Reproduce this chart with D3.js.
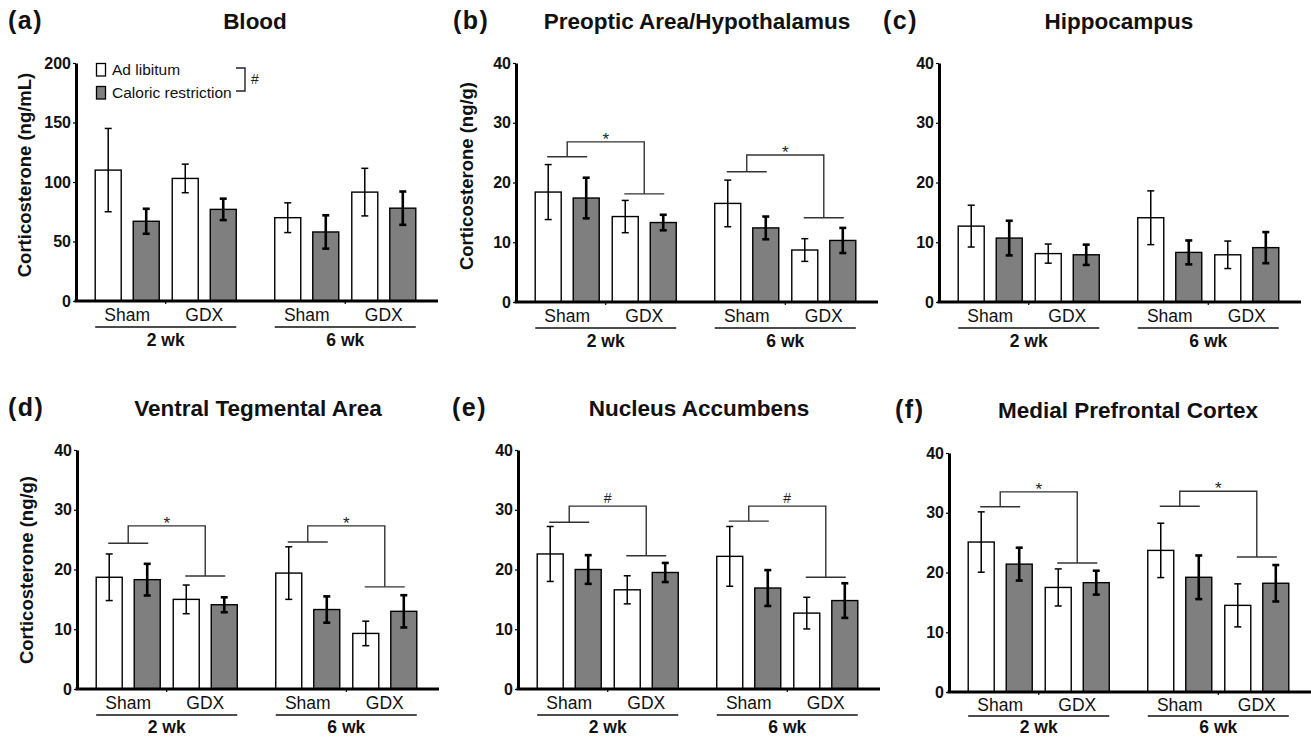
<!DOCTYPE html>
<html>
<head>
<meta charset="utf-8">
<script src="https://cdn.jsdelivr.net/npm/d3@7"></script>
<style>
  html, body { margin: 0; padding: 0; background: #fff; }
  svg { display: block; font-family: "Liberation Sans", Arial, Helvetica, sans-serif; }
</style>
</head>
<body>
<svg id="chart" width="1311" height="739"></svg>
<script>
// ---------------- DATA ----------------
const weeks = ["2 wk", "6 wk"];
const surgeries = ["Sham", "GDX"];
const diets = ["Ad libitum", "Caloric restriction"];
// order of values: 2wk Sham AL, 2wk Sham CR, 2wk GDX AL, 2wk GDX CR, 6wk Sham AL, 6wk Sham CR, 6wk GDX AL, 6wk GDX CR
const bloodMean = [110, 67, 103, 77, 70, 58, 91.5, 78];
const bloodErr  = [35, 10.5, 12, 9, 12.5, 14, 20, 14];
const poaMean = [18.4, 17.4, 14.3, 13.3, 16.5, 12.4, 8.7, 10.3];
const poaErr  = [4.6, 3.4, 2.7, 1.3, 3.9, 1.9, 1.9, 2.1];
const hipMean = [12.7, 10.7, 8.1, 7.9, 14.1, 8.3, 7.9, 9.1];
const hipErr  = [3.5, 2.9, 1.6, 1.7, 4.5, 2.0, 2.3, 2.6];
const vtaMean = [18.7, 18.3, 15.0, 14.1, 19.4, 13.3, 9.3, 13.0];
const vtaErr  = [3.9, 2.65, 2.4, 1.25, 4.4, 2.2, 2.05, 2.7];
const naccMean = [22.6, 20.0, 16.6, 19.5, 22.2, 16.9, 12.7, 14.8];
const naccErr  = [4.6, 2.4, 2.35, 1.6, 5.0, 3.0, 2.65, 2.9];
const mpfcMean = [25.1, 21.4, 17.5, 18.3, 23.7, 19.2, 14.5, 18.2];
const mpfcErr  = [5.05, 2.75, 3.1, 2.0, 4.55, 3.65, 3.6, 3.05];

const bloodTicks = [0, 50, 100, 150, 200];
const tissueTicks = [0, 10, 20, 30, 40];

const panelLetters = ["(a)", "(b)", "(c)", "(d)", "(e)", "(f)"];
const panelTitles = ["Blood", "Preoptic Area/Hypothalamus", "Hippocampus",
  "Ventral Tegmental Area", "Nucleus Accumbens", "Medial Prefrontal Cortex"];
const yLabels = ["Corticosterone (ng/mL)", "Corticosterone (ng/g)", "",
  "Corticosterone (ng/g)", "", ""];

// significance brackets: heights in data units (left group line, top line, right group line)
const poaBrackets  = [{week: "2 wk", left: 24.3, top: 26.8, right: 18.1, sym: "*"},
                      {week: "6 wk", left: 21.8, top: 24.6, right: 14.1, sym: "*"}];
const vtaBrackets  = [{week: "2 wk", left: 24.4, top: 27.3, right: 18.9, sym: "*"},
                      {week: "6 wk", left: 24.6, top: 27.3, right: 17.1, sym: "*"}];
const naccBrackets = [{week: "2 wk", left: 27.9, top: 30.6, right: 22.3, sym: "#"},
                      {week: "6 wk", left: 28.1, top: 30.6, right: 18.7, sym: "#"}];
const mpfcBrackets = [{week: "2 wk", left: 31.0, top: 33.5, right: 21.6, sym: "*"},
                      {week: "6 wk", left: 31.1, top: 33.6, right: 22.6, sym: "*"}];

// ---------------- LAYOUT ----------------
const layout = [
  {ox: 76,  y0: 301, yt: 63,  max: 200, ticks: bloodTicks,  mean: bloodMean, err: bloodErr, br: [],
   lx: 8,   tx: 255,  ty: 29,  ylx: 25,  yly: 175, legend: true},
  {ox: 516, y0: 302, yt: 63,  max: 40, ticks: tissueTicks, mean: poaMean, err: poaErr, br: poaBrackets,
   lx: 453, tx: 697,  ty: 29,  ylx: 467, yly: 176},
  {ox: 939, y0: 302, yt: 63,  max: 40, ticks: tissueTicks, mean: hipMean, err: hipErr, br: [],
   lx: 883, tx: 1119, ty: 29},
  {ox: 77,  y0: 689, yt: 450, max: 40, ticks: tissueTicks, mean: vtaMean, err: vtaErr, br: vtaBrackets,
   lx: 8,   tx: 258,  ty: 416, ylx: 27,  yly: 570},
  {ox: 518, y0: 689, yt: 450, max: 40, ticks: tissueTicks, mean: naccMean, err: naccErr, br: naccBrackets,
   lx: 452, tx: 699,  ty: 416},
  {ox: 949, y0: 692, yt: 453, max: 40, ticks: tissueTicks, mean: mpfcMean, err: mpfcErr, br: mpfcBrackets,
   lx: 895, tx: 1128, ty: 418}
];

const GRAY = "#7f7f7f";
const svg = d3.select("#chart");

const xW = d3.scaleBand().domain(weeks).range([0, 359]).paddingInner(0.2145).paddingOuter(0.107);
const xS = d3.scaleBand().domain(surgeries).range([0, xW.bandwidth()]).paddingInner(0.169);
const xD = d3.scaleBand().domain(diets).range([0, xS.bandwidth()]).paddingInner(0.316);

// flatten into records
function records(mean, err) {
  const out = [];
  let i = 0;
  weeks.forEach(w => surgeries.forEach(s => diets.forEach(d => {
    out.push({week: w, surg: s, diet: d, mean: mean[i], err: err[i]});
    i++;
  })));
  return out;
}

layout.forEach((L, pi) => {
  const g = svg.append("g").attr("transform", `translate(${L.ox},0)`);
  const y = d3.scaleLinear().domain([0, L.max]).range([L.y0, L.yt]);
  const data = records(L.mean, L.err);
  const bx = d => xW(d.week) + xS(d.surg) + xD(d.diet);
  const bw = xD.bandwidth();

  // bars
  g.selectAll("rect.bar").data(data).join("rect")
    .attr("class", "bar")
    .attr("x", bx)
    .attr("y", d => y(d.mean))
    .attr("width", bw)
    .attr("height", d => y(0) - y(d.mean))
    .attr("fill", d => d.diet === diets[0] ? "#fff" : GRAY)
    .attr("stroke", "#000")
    .attr("stroke-width", 1.4);

  // error bars
  const eg = g.selectAll("g.err").data(data).join("g").attr("class", "err")
    .attr("stroke", "#000")
    .attr("stroke-width", d => d.diet === diets[0] ? 1.5 : 2.6);
  eg.append("line")
    .attr("x1", d => bx(d) + bw / 2).attr("x2", d => bx(d) + bw / 2)
    .attr("y1", d => y(d.mean + d.err)).attr("y2", d => y(d.mean - d.err));
  eg.append("line")
    .attr("x1", d => bx(d) + bw / 2 - 3.5).attr("x2", d => bx(d) + bw / 2 + 3.5)
    .attr("y1", d => y(d.mean + d.err)).attr("y2", d => y(d.mean + d.err));
  eg.append("line")
    .attr("x1", d => bx(d) + bw / 2 - 3.5).attr("x2", d => bx(d) + bw / 2 + 3.5)
    .attr("y1", d => y(d.mean - d.err)).attr("y2", d => y(d.mean - d.err));

  // y axis
  const ya = g.append("g")
    .call(d3.axisLeft(y).tickValues(L.ticks).tickSize(3).tickSizeOuter(0).tickPadding(2));
  ya.select(".domain").attr("stroke-width", 3);
  ya.selectAll(".tick line").attr("stroke-width", 1.2);
  ya.selectAll(".tick text")
    .attr("font-family", "Liberation Sans, Arial, sans-serif")
    .attr("font-size", 16).attr("font-weight", "bold").attr("fill", "#111");

  // x axis
  const xa = g.append("g").attr("transform", `translate(0,${L.y0})`)
    .call(d3.axisBottom(xW).tickSize(3).tickSizeOuter(0).tickFormat(""));
  xa.select(".domain").attr("d", `M-1.5,0H362`).attr("stroke-width", 3);
  xa.selectAll(".tick line").attr("stroke-width", 1.2);

  // surgery labels
  const sy = Math.min(L.y0 + 20, 711);
  const uy = Math.min(L.y0 + 26, 716);
  const wy = Math.min(L.y0 + 45, 733);
  weeks.forEach(w => {
    surgeries.forEach(s => {
      g.append("text")
        .attr("x", xW(w) + xS(s) + xS.bandwidth() / 2)
        .attr("y", sy)
        .attr("text-anchor", "middle")
        .attr("font-size", 17.5).attr("fill", "#111")
        .text(s);
    });
    g.append("line")
      .attr("x1", xW(w)).attr("x2", xW(w) + xW.bandwidth())
      .attr("y1", uy).attr("y2", uy)
      .attr("stroke", "#111").attr("stroke-width", 1.4);
    g.append("text")
      .attr("x", xW(w) + xW.bandwidth() / 2)
      .attr("y", wy)
      .attr("text-anchor", "middle")
      .attr("font-size", 17.5).attr("font-weight", "bold").attr("fill", "#111")
      .text(w);
  });

  // significance brackets
  L.br.forEach(b => {
    const cL = xW(b.week) + xS(surgeries[0]) + xS.bandwidth() / 2;
    const cR = xW(b.week) + xS(surgeries[1]) + xS.bandwidth() / 2;
    const bg = g.append("g").attr("stroke", "#333").attr("stroke-width", 1.4).attr("fill", "none");
    bg.append("line").attr("x1", cL - 20).attr("x2", cL + 20).attr("y1", y(b.left)).attr("y2", y(b.left));
    bg.append("line").attr("x1", cR - 20).attr("x2", cR + 20).attr("y1", y(b.right)).attr("y2", y(b.right));
    bg.append("path").attr("d", `M${cL},${y(b.left)}V${y(b.top)}H${cR}V${y(b.right)}`);
    g.append("text")
      .attr("x", (cL + cR) / 2)
      .attr("y", y(b.top) - 3 + (b.sym === "*" ? 6 : 0))
      .attr("text-anchor", "middle")
      .attr("font-size", b.sym === "*" ? 17 : 14).attr("fill", "#222")
      .text(b.sym);
  });

  // legend
  if (L.legend) {
    const lg = g.append("g");
    diets.forEach((d, i) => {
      lg.append("rect").attr("x", 20.5).attr("y", 63.5 + i * 23).attr("width", 9).attr("height", 12.5)
        .attr("fill", i === 0 ? "#fff" : GRAY).attr("stroke", "#000").attr("stroke-width", 1.3);
      lg.append("text").attr("x", 36).attr("y", 74.5 + i * 23)
        .attr("font-size", 15.5).attr("fill", "#111").text(d);
    });
    lg.append("path").attr("d", "M160,68H169V91H160")
      .attr("fill", "none").attr("stroke", "#222").attr("stroke-width", 1.4);
    lg.append("text").attr("x", 175).attr("y", 84).attr("font-size", 14).attr("fill", "#222").text("#");
  }

  // titles
  svg.append("text").attr("x", L.lx).attr("y", L.ty)
    .attr("font-size", 25).attr("font-weight", "bold").attr("letter-spacing", 1.5).attr("fill", "#111")
    .text(panelLetters[pi]);
  svg.append("text").attr("x", L.tx).attr("y", L.ty)
    .attr("text-anchor", "middle")
    .attr("font-size", 22.5).attr("font-weight", "bold").attr("fill", "#111")
    .text(panelTitles[pi]);

  if (yLabels[pi]) {
    svg.append("text")
      .attr("transform", `translate(${L.ylx},${L.yly}) rotate(-90)`)
      .attr("text-anchor", "middle").attr("dy", "0.35em")
      .attr("font-size", 18.5).attr("font-weight", "bold").attr("fill", "#111")
      .text(yLabels[pi]);
  }
});
</script>
</body>
</html>
